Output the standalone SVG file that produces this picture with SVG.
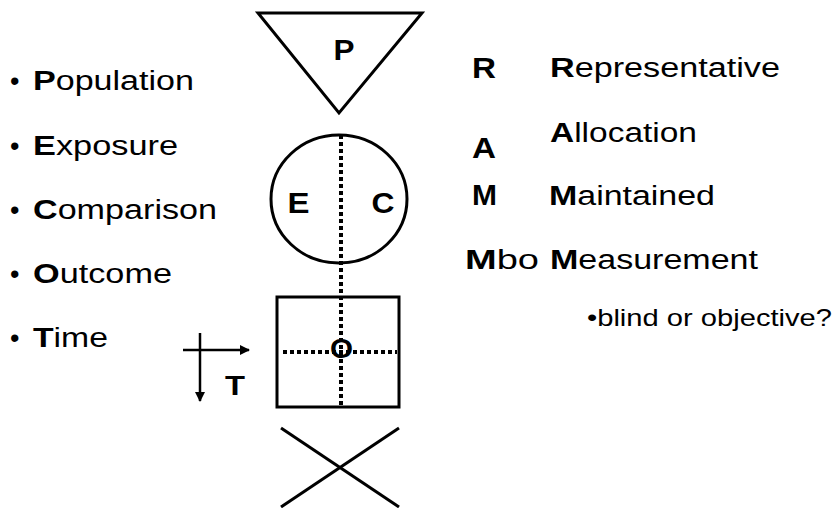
<svg xmlns="http://www.w3.org/2000/svg" width="836" height="508" viewBox="0 0 836 508">
<defs>
<style>
.t{font-family:"Liberation Sans",Arial,sans-serif;font-size:27px;fill:#000}
.b{font-weight:bold}
.k{font-size:29px}
.sh{fill:none;stroke:#000;stroke-width:3}
.dot{fill:none;stroke:#000;stroke-width:4;stroke-dasharray:4 3}
.ax{fill:none;stroke:#000;stroke-width:2.5}
</style>
<marker id="ah" viewBox="0 0 10 10" refX="9" refY="5" markerWidth="4" markerHeight="4" orient="auto" markerUnits="strokeWidth">
<path d="M0,0 L10,5 L0,10 z" fill="#000"/>
</marker>
</defs>
<rect width="836" height="508" fill="#fff"/>

<g id="list-left">
<text class="t" x="10" y="90">•</text><text class="t" x="33" y="90" textLength="161" lengthAdjust="spacingAndGlyphs"><tspan class="b">P</tspan>opulation</text>
<text class="t" x="10" y="155">•</text><text class="t" x="33" y="155" textLength="145" lengthAdjust="spacingAndGlyphs"><tspan class="b">E</tspan>xposure</text>
<text class="t" x="10" y="219">•</text><text class="t" x="33" y="219" textLength="184" lengthAdjust="spacingAndGlyphs"><tspan class="b">C</tspan>omparison</text>
<text class="t" x="10" y="283">•</text><text class="t" x="33" y="283" textLength="139" lengthAdjust="spacingAndGlyphs"><tspan class="b">O</tspan>utcome</text>
<text class="t" x="10" y="347">•</text><text class="t" x="33" y="347" textLength="75" lengthAdjust="spacingAndGlyphs"><tspan class="b">T</tspan>ime</text>
</g>

<g id="node-P">
<polygon class="sh" points="258,13 422,13 339,113"/>
<text class="t b" x="344" y="60" text-anchor="middle" textLength="21" lengthAdjust="spacingAndGlyphs" style="font-size:30px">P</text>
</g>

<g id="node-EC">
<ellipse class="sh" cx="339" cy="199" rx="68" ry="64"/>
<text class="t b" x="298.5" y="213" text-anchor="middle" textLength="22" lengthAdjust="spacingAndGlyphs" style="font-size:29px">E</text>
<text class="t b" x="383" y="213" text-anchor="middle" textLength="23" lengthAdjust="spacingAndGlyphs" style="font-size:29px">C</text>
</g>

<g id="node-O">
<rect class="sh" x="277" y="297" width="122" height="110"/>
</g>

<g id="node-X">
<line class="sh" x1="281" y1="428" x2="399" y2="507"/>
<line class="sh" x1="399" y1="428" x2="281" y2="507"/>
</g>

<g id="connectors">
<line class="dot" x1="341" y1="135" x2="341" y2="407"/>
<line class="dot" x1="283" y1="352" x2="397" y2="352"/>
<line class="ax" x1="183" y1="350" x2="249" y2="350" marker-end="url(#ah)"/>
<line class="ax" x1="200" y1="333" x2="200" y2="401" marker-end="url(#ah)"/>
</g>

<g id="label-O">
<text class="t b" x="341.5" y="358" text-anchor="middle" textLength="23" lengthAdjust="spacingAndGlyphs">O</text>
</g>

<g id="label-T">
<text class="t b" x="235" y="395" text-anchor="middle" textLength="20" lengthAdjust="spacingAndGlyphs" style="font-size:28px">T</text>
</g>

<g id="list-right">
<text class="t b k" x="472" y="78" textLength="24" lengthAdjust="spacingAndGlyphs">R</text>
<text class="t" x="550" y="77" textLength="230" lengthAdjust="spacingAndGlyphs"><tspan class="b">R</tspan>epresentative</text>
<text class="t" x="550" y="142" textLength="147" lengthAdjust="spacingAndGlyphs"><tspan class="b">A</tspan>llocation</text>
<text class="t b k" x="472" y="158" textLength="24" lengthAdjust="spacingAndGlyphs">A</text>
<text class="t b k" x="472" y="205" textLength="25" lengthAdjust="spacingAndGlyphs">M</text>
<text class="t" x="549" y="205" textLength="166" lengthAdjust="spacingAndGlyphs"><tspan class="b">M</tspan>aintained</text>
<text class="t" x="465" y="269" textLength="74" lengthAdjust="spacingAndGlyphs"><tspan class="b">M</tspan>bo</text>
<text class="t" x="550" y="269" textLength="208" lengthAdjust="spacingAndGlyphs"><tspan class="b">M</tspan>easurement</text>
<text class="t" x="587" y="326" textLength="245" lengthAdjust="spacingAndGlyphs" style="font-size:24px">•blind or objective?</text>
</g>
</svg>
